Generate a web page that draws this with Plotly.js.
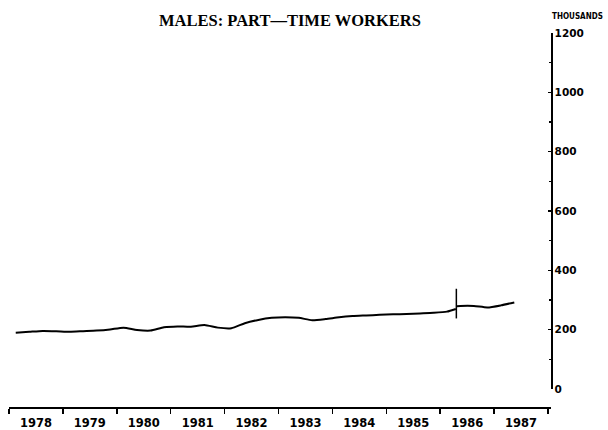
<!DOCTYPE html>
<html><head><meta charset="utf-8">
<script src="https://cdn.plot.ly/plotly-3.0.1.min.js"></script>
<style>html,body{margin:0;padding:0;background:#fff}#chart{width:608px;height:430px}</style>
</head><body><div id="chart"></div>
<script>
// Quarterly observations (time in decimal years, quarter midpoints), thousands
const oldTime = [1978.125,1978.375,1978.625,1978.875,1979.125,1979.375,1979.625,1979.875,
  1980.125,1980.375,1980.625,1980.875,1981.125,1981.375,1981.625,1981.875,
  1982.125,1982.375,1982.625,1982.875,1983.125,1983.375,1983.625,1983.875,
  1984.125,1984.375,1984.625,1984.875,1985.125,1985.375,1985.625,1985.875,
  1986.125,1986.29];
const oldValues = [190,193,196,195,193,195,197,201,
  207,199,197,208,211,210,216,207,
  205,222,233,240,242,240,232,236,
  242,246,248,250,252,253,255,257,
  261,270];
const newTime = [1986.31,1986.375,1986.625,1986.875,1987.125,1987.375];
const newValues = [279,280,280,275,282,292];
const breakTime = [1986.3,1986.3];
const breakRange = [238,338];
const yearLabels = ['1978','1979','1980','1981','1982','1983','1984','1985','1986','1987'];
const yearStarts = [1978,1979,1980,1981,1982,1983,1984,1985,1986,1987,1988];
const yTicks = [0,200,400,600,800,1000,1200];

const lineStyle = {color:'#000', width:2, shape:'spline', smoothing:0.6};
const traces = [
  {x:oldTime, y:oldValues, mode:'lines', line:lineStyle, hoverinfo:'skip'},
  {x:newTime, y:newValues, mode:'lines', line:lineStyle, hoverinfo:'skip'},
  {x:breakTime, y:breakRange, mode:'lines', line:{color:'#000', width:1.5}, hoverinfo:'skip'}
];
const layout = {
  width:608, height:430,
  margin:{l:9, r:57, t:33, b:23},
  paper_bgcolor:'#fff', plot_bgcolor:'#fff',
  showlegend:false,
  font:{family:'DejaVu Sans', color:'#000'},
  xaxis:{
    range:[1978,1988.056], showgrid:false, zeroline:false,
    showline:true, linecolor:'#000', linewidth:1.5,
    tickmode:'array', tickvals:yearLabels.map(y=>+y+0.5), ticktext:yearLabels,
    ticks:'', ticklen:0, ticklabelstandoff:5,
    tickfont:{family:'DejaVu Sans', size:11.5, color:'#000', weight:'bold'},
    minor:{tickmode:'array', tickvals:yearStarts, ticks:'outside', ticklen:5, tickwidth:1.5, tickcolor:'#000', showgrid:false},
    anchor:'free', position:0
  },
  yaxis:{
    domain:[0.048,1], range:[0,1200], side:'right',
    anchor:'free', position:1,
    showgrid:false, zeroline:false,
    showline:true, linecolor:'#000', linewidth:1.5,
    tickmode:'array', tickvals:yTicks, ticktext:yTicks.map(String),
    ticks:'inside', ticklen:3, tickwidth:1.5, tickcolor:'#000',
    tickfont:{family:'DejaVu Sans', size:10.5, color:'#000', weight:'bold'},
    minor:{dtick:100, ticks:'inside', ticklen:2, tickcolor:'#000', showgrid:false}
  },
  title:{text:'MALES: PART\u2014TIME WORKERS', x:290/608, xanchor:'center', y:1-20/430, yanchor:'middle',
    font:{family:'Liberation Serif', size:16.5, color:'#000', weight:'bold'}},
  annotations:[{text:'THOUSANDS', xref:'paper', yref:'paper', x:1.048, y:1.043, xanchor:'center', yanchor:'middle',
    showarrow:false, font:{family:'DejaVu Sans Condensed', size:8, color:'#000', weight:'bold'}}]
};
Plotly.newPlot('chart', traces, layout, {staticPlot:true, displayModeBar:false});
</script></body></html>
